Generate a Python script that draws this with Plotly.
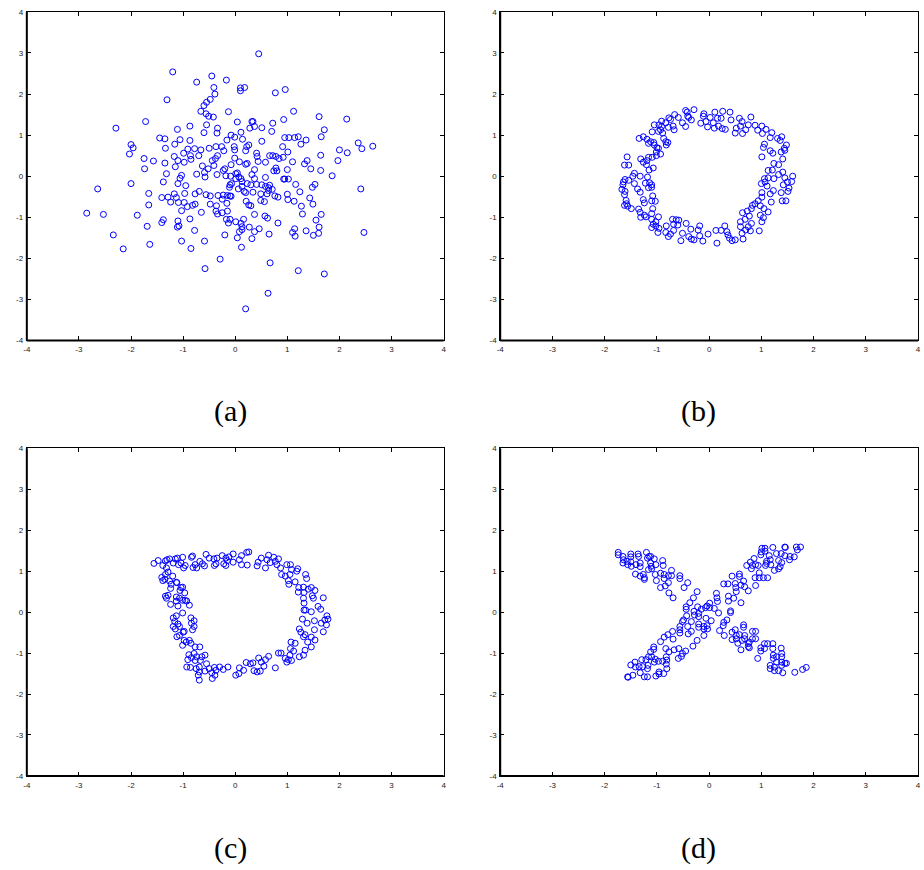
import plotly.graph_objects as go

# ---------------- data ----------------
points_a = [
    (0.45, 2.98), (-1.20, 2.54), (-0.45, 2.44), (-0.74, 2.29), (-0.17, 2.34), (-0.41, 2.16), (0.10, 2.15),
    (0.18, 2.16), (0.10, 2.08), (0.77, 2.03), (0.96, 2.11), (-0.39, 2.00), (-1.31, 1.86), (-0.48, 1.87),
    (-0.55, 1.80), (-0.60, 1.72), (-0.66, 1.58), (-0.56, 1.52), (-0.51, 1.46), (-0.42, 1.44), (-0.13, 1.57),
    (1.12, 1.58), (-1.72, 1.33), (-2.29, 1.17), (-0.87, 1.22), (-0.55, 1.25), (0.04, 1.32), (0.32, 1.33),
    (0.34, 1.33), (0.72, 1.29), (0.93, 1.38), (1.61, 1.45), (2.14, 1.39), (1.71, 1.13), (-1.11, 1.14),
    (-0.34, 1.17), (-0.35, 1.05), (-0.60, 1.06), (0.11, 1.07), (0.28, 1.17), (0.37, 1.21), (0.51, 1.18),
    (0.70, 1.09), (-1.45, 0.93), (-1.35, 0.91), (-1.06, 0.89), (-0.87, 0.87), (-0.08, 1.00), (-0.01, 0.95),
    (-0.16, 0.88), (0.14, 0.90), (0.51, 0.85), (0.95, 0.94), (1.03, 0.94), (1.14, 0.94), (1.21, 0.96),
    (1.26, 0.78), (1.36, 0.88), (1.65, 0.96), (2.36, 0.81), (2.64, 0.73), (2.43, 0.67), (2.00, 0.64),
    (2.15, 0.57), (-2.00, 0.77), (-1.96, 0.69), (-2.03, 0.54), (-1.34, 0.68), (-1.16, 0.78), (-0.91, 0.66),
    (-0.78, 0.67), (-0.66, 0.64), (-0.50, 0.68), (-0.37, 0.72), (-0.26, 0.72), (-0.02, 0.72), (-0.01, 0.64),
    (-0.22, 0.62), (0.26, 0.76), (0.22, 0.72), (0.20, 0.62), (0.41, 0.56), (0.42, 0.48), (0.66, 0.50),
    (0.72, 0.50), (0.78, 0.48), (0.84, 0.43), (0.91, 0.72), (1.01, 0.59), (0.92, 0.46), (1.38, 0.38),
    (1.33, 0.30), (1.64, 0.51), (1.97, 0.38), (-1.75, 0.43), (-1.57, 0.37), (-1.74, 0.18), (-1.35, 0.32),
    (-1.17, 0.48), (-1.10, 0.38), (-1.15, 0.23), (-0.99, 0.56), (-0.98, 0.34), (-0.86, 0.50), (-0.85, 0.41),
    (-0.70, 0.50), (-0.63, 0.25), (-0.52, 0.18), (-0.44, 0.38), (-0.41, 0.26), (-0.34, 0.50), (-0.38, 0.43),
    (-0.23, 0.14), (-0.20, 0.18), (-0.08, 0.28), (-0.01, 0.44), (0.08, 0.35), (0.20, 0.29), (0.23, 0.31),
    (0.37, 0.16), (0.44, 0.36), (0.58, 0.34), (0.78, 0.20), (0.74, 0.13), (0.80, 0.13), (1.00, 0.16),
    (1.10, 0.35), (1.45, 0.18), (1.64, 0.14), (1.86, 0.01), (-1.32, 0.06), (-1.03, 0.02), (-1.06, -0.05),
    (-0.74, 0.05), (-0.59, 0.09), (-0.58, -0.02), (-0.35, 0.04), (-0.18, 0.01), (-0.09, 0.00), (0.01, 0.06),
    (0.04, 0.08), (0.07, -0.02), (0.01, -0.06), (0.11, -0.06), (0.13, -0.13), (0.32, 0.04), (0.37, -0.06),
    (0.58, -0.03), (0.95, -0.07), (1.02, -0.07), (0.93, -0.07), (-1.38, -0.14), (-1.10, -0.18), (-0.95, -0.23),
    (-2.64, -0.31), (-2.00, -0.18), (-1.66, -0.42), (-1.41, -0.52), (-1.29, -0.51), (-1.17, -0.43),
    (-1.13, -0.52), (-1.24, -0.63), (-1.09, -0.64), (-0.97, -0.42), (-0.98, -0.64), (-0.77, -0.43),
    (-0.69, -0.37), (-0.56, -0.45), (-0.48, -0.48), (-0.33, -0.47), (-0.23, -0.46), (-0.15, -0.47),
    (-0.10, -0.48), (-0.10, -0.21), (-0.11, -0.27), (-0.07, -0.18), (-0.08, -0.49), (0.06, -0.31),
    (0.13, -0.25), (0.17, -0.37), (0.23, -0.18), (0.20, -0.40), (0.30, -0.21), (0.34, -0.39), (0.41, -0.20),
    (0.49, -0.43), (0.51, -0.21), (0.58, -0.25), (0.64, -0.28), (0.66, -0.22), (0.64, -0.35), (0.71, -0.32),
    (0.76, -0.48), (0.82, -0.51), (0.61, -0.43), (1.00, -0.44), (1.01, -0.57), (1.16, -0.20), (1.24, -0.38),
    (1.13, -0.61), (1.27, -0.73), (1.29, -0.92), (1.48, -0.27), (1.53, -0.20), (1.43, -0.53), (1.49, -0.68),
    (2.41, -0.31), (-2.85, -0.90), (-2.53, -0.93), (-1.88, -0.95), (-1.66, -0.70), (-1.69, -1.22),
    (-2.34, -1.43), (-2.15, -1.77), (-1.64, -1.66), (-1.38, -1.06), (-1.41, -1.13), (-1.10, -1.09),
    (-1.11, -1.24), (-1.08, -1.21), (-1.03, -0.84), (-0.92, -0.74), (-0.82, -0.71), (-0.77, -0.68),
    (-0.87, -1.04), (-0.65, -0.88), (-0.78, -1.32), (-1.03, -1.58), (-0.85, -1.76), (-0.59, -1.58),
    (-0.58, -2.25), (-0.48, -0.68), (-0.37, -0.85), (-0.34, -0.92), (-0.36, -0.72), (-0.25, -0.89),
    (-0.25, -0.56), (-0.15, -0.85), (-0.16, -0.66), (-0.17, -1.05), (-0.10, -1.05), (-0.13, -1.14),
    (-0.20, -1.43), (-0.29, -2.02), (0.01, -1.11), (0.04, -1.50), (0.08, -1.35), (0.11, -1.15), (0.13, -1.30),
    (0.16, -1.05), (0.12, -1.73), (0.21, -0.61), (0.26, -0.70), (0.30, -0.72), (0.37, -0.93), (0.27, -1.24),
    (0.37, -1.35), (0.46, -1.28), (0.32, -1.52), (0.20, -3.23), (0.49, -0.59), (0.56, -0.62), (0.57, -0.97),
    (0.62, -1.02), (0.65, -1.41), (0.67, -2.11), (0.63, -2.85), (0.82, -1.14), (1.10, -1.37), (1.14, -1.28),
    (1.15, -1.46), (1.21, -2.30), (1.36, -1.33), (1.50, -1.44), (1.55, -1.07), (1.61, -1.24), (1.60, -1.39),
    (1.65, -0.93), (1.71, -2.38), (2.47, -1.37), (0.13, -1.23),
]

points_b = [
    (-0.45, 1.60), (-0.42, 1.56), (-0.29, 1.62), (-0.66, 1.50), (-0.59, 1.43), (-0.41, 1.46), (-0.34, 1.37),
    (-0.39, 1.43), (-0.51, 1.30), (-0.45, 1.21), (-0.74, 1.38), (-0.77, 1.42), (-0.91, 1.34), (-0.83, 1.30),
    (-0.69, 1.22), (-0.67, 1.13), (-1.05, 1.25), (-0.96, 1.25), (-0.91, 1.21), (-0.78, 1.19), (-0.93, 1.13),
    (-0.97, 1.09), (-1.09, 1.08), (-0.89, 1.05), (-0.10, 1.52), (-0.11, 1.46), (-0.06, 1.33), (-0.16, 1.29),
    (0.11, 1.56), (0.02, 1.43), (0.16, 1.41), (0.08, 1.30), (-0.03, 1.20), (0.10, 1.17), (0.26, 1.58),
    (0.40, 1.56), (0.23, 1.41), (0.18, 1.22), (0.25, 1.16), (0.31, 1.14), (0.42, 1.37), (0.58, 1.41),
    (0.63, 1.33), (0.80, 1.44), (0.60, 1.22), (0.52, 1.17), (0.50, 1.05), (0.64, 1.04), (0.70, 1.13),
    (0.75, 1.25), (0.88, 1.24), (0.93, 1.12), (1.01, 1.22), (1.09, 1.14), (1.02, 1.04), (1.20, 1.06),
    (1.17, 0.94), (1.31, 0.92), (1.39, 0.96), (1.36, 0.87), (1.48, 0.76), (1.44, 0.68), (1.45, 0.63),
    (1.38, 0.59), (1.06, 0.78), (1.04, 0.70), (1.17, 0.62), (1.22, 0.56), (1.01, 0.47), (1.41, 0.42),
    (1.24, 0.31), (1.33, 0.28), (1.41, 0.10), (1.13, 0.14), (1.21, 0.15), (1.33, 0.04), (1.13, -0.04),
    (1.06, -0.06), (1.24, -0.06), (1.45, -0.04), (1.60, 0.00), (1.58, -0.13), (1.50, -0.14), (1.42, -0.21),
    (1.53, -0.29), (1.51, -0.37), (1.38, -0.40), (1.23, -0.35), (1.17, -0.43), (1.00, -0.18), (1.07, -0.14),
    (1.11, -0.24), (1.01, -0.40), (1.01, -0.51), (0.94, -0.60), (1.19, -0.63), (1.40, -0.60), (1.47, -0.60),
    (0.88, -0.67), (0.83, -0.71), (0.81, -0.79), (0.98, -0.72), (1.05, -0.79), (1.13, -0.87), (0.98, -0.95),
    (1.04, -1.01), (1.01, -1.11), (0.73, -0.85), (0.64, -0.89), (0.77, -0.97), (0.69, -1.05), (0.60, -1.11),
    (0.81, -1.15), (0.75, -1.23), (0.60, -1.23), (0.70, -1.31), (0.96, -1.33), (0.79, -1.33), (0.63, -1.39),
    (0.65, -1.53), (0.50, -1.55), (0.44, -1.57), (0.36, -1.43), (0.39, -1.51), (0.34, -1.35), (0.30, -1.21),
    (0.23, -1.32), (0.13, -1.32), (0.15, -1.63), (-0.02, -1.41), (-0.12, -1.58), (-0.18, -1.45),
    (-0.18, -1.21), (-0.21, -1.31), (-0.29, -1.55), (-0.34, -1.53), (-0.39, -1.47), (-0.35, -1.29),
    (-0.51, -1.39), (-0.54, -1.57), (-0.44, -1.15), (-0.60, -1.19), (-0.63, -1.06), (-0.58, -1.07),
    (-0.70, -1.05), (-0.68, -1.17), (-0.68, -1.32), (-0.74, -1.41), (-0.78, -1.47), (-0.82, -1.21),
    (-0.83, -1.37), (-0.96, -1.27), (-0.98, -1.37), (-0.97, -0.99), (-1.02, -1.11), (-1.07, -1.17),
    (-1.10, -1.25), (-1.02, -1.21), (-1.10, -1.05), (-1.21, -0.99), (-1.10, -0.91), (-1.08, -0.79),
    (-1.24, -0.95), (-1.35, -0.80), (-1.32, -0.88), (-1.31, -1.00), (-1.49, -0.79), (-1.56, -0.73),
    (-1.62, -0.71), (-1.59, -0.59), (-1.58, -0.67), (-1.24, -0.65), (-1.26, -0.57), (-1.10, -0.60),
    (-1.03, -0.61), (-1.08, -0.48), (-1.62, -0.45), (-1.61, -0.37), (-1.67, -0.32), (-1.65, -0.21),
    (-1.64, -0.14), (-1.61, -0.08), (-1.54, -0.10), (-1.46, 0.00), (-1.43, 0.07), (-1.43, -0.18),
    (-1.37, -0.31), (-1.32, -0.39), (-1.32, 0.00), (-1.22, -0.17), (-1.18, -0.02), (-1.14, -0.16),
    (-1.10, -0.21), (-1.10, -0.27), (-1.16, -0.28), (-1.62, 0.27), (-1.54, 0.27), (-1.57, 0.47),
    (-1.31, 0.42), (-1.26, 0.34), (-1.20, 0.28), (-1.19, 0.38), (-1.16, 0.46), (-1.09, 0.46), (-1.15, 0.15),
    (-1.07, 0.20), (-1.01, 0.50), (-0.93, 0.54), (-1.34, 0.92), (-1.26, 0.96), (-1.19, 0.90), (-1.16, 0.80),
    (-1.12, 0.84), (-1.06, 0.82), (-1.05, 0.76), (-1.00, 0.69), (-0.97, 0.68), (-1.01, 0.59), (-0.87, 0.92),
    (-0.83, 0.84), (-0.79, 0.82), (-0.82, 0.76),
]

points_c = [
    (-1.56, 1.19), (-1.48, 1.26), (-1.39, 1.14), (-1.34, 1.25), (-1.31, 1.28), (-1.26, 1.30), (-1.32, 1.08),
    (-1.15, 1.30), (-1.11, 1.32), (-1.19, 1.20), (-1.09, 1.16), (-1.01, 1.34), (-1.04, 1.20), (-0.96, 1.14),
    (-0.99, 1.08), (-0.84, 1.34), (-0.82, 1.37), (-0.77, 1.16), (-0.74, 1.08), (-0.81, 1.09), (-0.68, 1.24),
    (-0.56, 1.41), (-0.63, 1.18), (-0.59, 1.13), (-0.50, 1.32), (-0.41, 1.30), (-0.35, 1.32), (-0.37, 1.18),
    (-0.40, 1.14), (-0.25, 1.38), (-0.18, 1.32), (-0.12, 1.35), (-0.15, 1.26), (-0.22, 1.18), (-0.18, 1.14),
    (-0.04, 1.42), (-0.04, 1.22), (0.12, 1.38), (0.08, 1.28), (0.12, 1.16), (0.22, 1.46), (0.26, 1.47),
    (0.23, 1.15), (0.42, 1.13), (0.44, 1.22), (0.50, 1.32), (0.58, 1.08), (0.64, 1.39), (0.61, 1.28),
    (0.67, 1.21), (0.74, 1.34), (0.77, 1.24), (0.83, 1.30), (0.80, 1.16), (0.87, 1.08), (0.89, 0.92),
    (0.96, 0.88), (0.99, 1.16), (1.06, 1.16), (1.08, 1.04), (1.05, 0.92), (1.02, 0.77), (1.03, 0.68),
    (1.18, 1.00), (1.20, 1.06), (1.15, 0.74), (1.22, 0.60), (1.21, 0.49), (1.31, 0.61), (1.35, 0.92),
    (1.37, 0.82), (1.32, 0.48), (1.40, 0.56), (1.46, 0.60), (1.53, 0.53), (1.48, 0.40), (1.50, 0.34),
    (1.31, 0.34), (1.32, 0.22), (1.32, 0.05), (1.35, 0.05), (1.46, 0.01), (1.59, 0.14), (1.64, 0.07),
    (1.69, 0.35), (1.76, -0.09), (1.78, -0.17), (1.72, -0.19), (1.65, -0.27), (1.75, -0.31), (1.69, -0.48),
    (1.52, -0.21), (1.38, -0.27), (1.29, -0.17), (1.23, -0.41), (1.26, -0.49), (1.34, -0.55), (1.39, -0.73),
    (1.52, -0.43), (1.46, -0.61), (1.53, -0.68), (1.46, -0.85), (1.31, -0.60), (1.15, -0.76), (1.07, -0.73),
    (1.06, -0.89), (1.12, -0.95), (1.05, -1.05), (1.34, -0.93), (1.31, -1.05), (1.23, -1.09), (1.08, -1.18),
    (1.02, -1.16), (0.96, -1.13), (0.99, -1.22), (0.83, -1.00), (0.88, -1.00), (0.77, -1.36), (0.64, -1.08),
    (0.58, -1.16), (0.55, -1.32), (0.50, -1.22), (0.45, -1.12), (0.48, -1.44), (0.42, -1.46), (0.34, -1.24),
    (0.29, -1.26), (0.21, -1.23), (0.36, -1.43), (0.16, -1.42), (0.08, -1.36), (0.07, -1.50), (0.01, -1.54),
    (-0.14, -1.34), (-0.23, -1.40), (-0.30, -1.34), (-0.40, -1.35), (-0.37, -1.42), (-0.45, -1.48),
    (-0.44, -1.62), (-0.39, -1.54), (-0.50, -1.38), (-0.55, -1.26), (-0.58, -1.44), (-0.58, -1.05),
    (-0.64, -1.09), (-0.67, -1.18), (-0.69, -1.46), (-0.69, -1.66), (-0.71, -1.54), (-0.69, -1.34),
    (-0.75, -1.38), (-0.77, -1.18), (-0.74, -1.09), (-0.79, -1.01), (-0.84, -1.11), (-0.86, -1.35),
    (-0.93, -1.34), (-0.91, -1.16), (-0.89, -1.04), (-0.68, -0.85), (-0.77, -0.85), (-0.85, -0.76),
    (-0.88, -0.69), (-0.94, -0.73), (-1.01, -0.81), (-0.98, -0.69), (-0.98, -0.47), (-1.00, -0.49),
    (-0.82, -0.43), (-0.79, -0.35), (-0.79, -0.21), (-0.85, -0.14), (-0.84, -0.27), (-1.01, -0.02),
    (-1.13, -0.09), (-1.19, -0.14), (-1.16, -0.23), (-1.10, -0.29), (-1.19, -0.35), (-1.15, -0.41),
    (-1.07, -0.35), (-1.12, -0.60), (-1.07, -0.57), (-0.88, 0.17), (-0.93, 0.27), (-0.96, 0.29),
    (-0.97, 0.47), (-1.01, 0.29), (-1.07, 0.34), (-1.13, 0.37), (-1.13, 0.27), (-1.10, 0.15), (-1.24, 0.19),
    (-1.34, 0.39), (-1.32, 0.34), (-1.29, 0.41), (-1.01, 0.61), (-1.04, 0.60), (-1.13, 0.73), (-1.12, 0.72),
    (-1.06, 0.53), (-1.23, 0.68), (-1.24, 0.58), (-1.41, 0.85), (-1.39, 0.77), (-1.35, 0.80), (-1.34, 0.92),
    (-1.26, 0.76), (-1.20, 0.88), (-1.29, 0.98),
]

points_d = [
    (-1.74, 1.46), (-1.74, 1.40), (-1.65, 1.36), (-1.64, 1.28), (-1.65, 1.20), (-1.57, 1.24), (-1.56, 1.16),
    (-1.50, 1.42), (-1.50, 1.35), (-1.50, 1.23), (-1.49, 1.12), (-1.40, 1.16), (-1.41, 0.93), (-1.36, 1.42),
    (-1.35, 1.36), (-1.32, 1.20), (-1.32, 1.11), (-1.32, 0.88), (-1.26, 0.92), (-1.24, 0.84), (-1.24, 0.80),
    (-1.20, 1.46), (-1.18, 1.32), (-1.15, 1.36), (-1.12, 1.36), (-1.12, 1.20), (-1.11, 1.12), (-1.10, 1.06),
    (-1.16, 1.04), (-1.05, 1.30), (-1.02, 1.16), (-1.03, 0.92), (-1.01, 0.77), (-0.93, 0.95), (-0.89, 1.26),
    (-0.88, 1.14), (-0.86, 0.92), (-0.86, 0.82), (-0.84, 0.64), (-0.78, 0.89), (-0.78, 0.72), (-0.93, 0.60),
    (-0.77, 0.47), (-0.69, 0.35), (-0.72, 1.02), (-0.72, 0.89), (-0.56, 0.89), (-0.56, 0.82), (-0.48, 0.60),
    (-0.41, 0.72), (-0.23, 0.50),
    (1.67, 1.59), (1.75, 1.59), (1.69, 1.52), (1.45, 1.59), (1.46, 1.58), (1.22, 1.58), (1.01, 1.56),
    (1.07, 1.56), (1.07, 1.49), (0.99, 1.40), (1.00, 1.47), (1.38, 1.43), (1.29, 1.43), (1.45, 1.38),
    (1.55, 1.36), (1.63, 1.35), (1.54, 1.28), (1.15, 1.38), (1.17, 1.28), (1.10, 1.24), (1.18, 1.16),
    (1.08, 1.14), (1.10, 1.19), (1.33, 1.26), (1.39, 1.21), (1.36, 1.11), (1.33, 1.06), (1.25, 1.02),
    (0.86, 1.31), (0.79, 1.22), (0.72, 1.14), (0.83, 1.14), (0.89, 1.16), (0.94, 1.14), (0.81, 1.06),
    (0.96, 0.96), (0.88, 0.84), (0.96, 0.84), (1.04, 0.84), (1.12, 0.84), (0.89, 0.65), (0.58, 0.93),
    (0.58, 0.87), (0.44, 0.88), (0.66, 0.76), (0.50, 0.70), (0.51, 0.60), (0.52, 0.50), (0.61, 0.66),
    (0.68, 0.62), (0.75, 0.52), (0.28, 0.69), (0.36, 0.69), (0.14, 0.46), (0.15, 0.35), (0.16, 0.26),
    (0.37, 0.39), (0.37, 0.27), (0.47, 0.34), (0.61, 0.23),
    (0.01, 0.22), (-0.04, 0.15), (0.01, 0.11), (-0.07, 0.11), (-0.15, 0.07), (-0.22, 0.13), (-0.30, 0.35),
    (-0.37, 0.23), (-0.44, 0.13), (-0.44, 0.07), (-0.29, 0.02), (-0.28, -0.07), (-0.20, -0.03),
    (-0.20, -0.11), (0.10, 0.09), (0.18, -0.02), (0.04, -0.21), (-0.06, -0.15), (-0.43, -0.09),
    (-0.49, -0.19), (-0.51, -0.23), (-0.34, -0.23), (-0.41, -0.35), (-0.34, -0.47), (-0.40, -0.53),
    (-0.20, -0.29), (-0.20, -0.37), (-0.10, -0.35), (-0.10, -0.41), (-0.10, -0.57), (-0.04, -0.33),
    (-0.03, -0.41), (0.28, -0.25), (0.27, -0.33), (0.34, -0.19), (0.41, 0.03), (0.41, -0.01), (0.20, -0.45),
    (0.29, -0.57),
    (-0.56, -0.35), (-0.56, -0.43), (-0.56, -0.51), (-0.70, -0.47), (-0.79, -0.55), (-0.86, -0.61),
    (-0.93, -0.72), (-0.69, -0.66), (-0.58, -0.89), (-0.67, -0.92), (-0.83, -0.89), (-0.77, -0.97),
    (-0.51, -1.01), (-0.45, -0.95), (-0.53, -1.08), (-0.59, -1.13), (-0.31, -0.83), (-0.23, -0.69),
    (-1.06, -0.85), (-1.06, -0.91), (-1.12, -0.97), (-1.16, -1.09), (-1.21, -1.16), (-1.29, -1.16),
    (-1.10, -1.09), (-1.03, -1.15), (-1.05, -1.22), (-0.97, -1.20), (-0.89, -1.20), (-0.82, -1.09),
    (-0.81, -1.17), (-0.82, -1.27), (-0.81, -1.38), (-1.17, -1.30), (-1.18, -1.38), (-1.27, -1.33),
    (-1.34, -1.33), (-1.42, -1.22), (-1.50, -1.29), (-1.41, -1.34), (-1.32, -1.48), (-1.46, -1.54),
    (-1.55, -1.59), (-1.56, -1.58), (-1.24, -1.58), (-1.18, -1.58), (-1.02, -1.56), (-0.96, -1.46),
    (-0.96, -1.51), (-0.87, -1.50),
    (0.44, -0.49), (0.50, -0.43), (0.52, -0.57), (0.52, -0.65), (0.58, -0.55), (0.63, -0.69), (0.66, -0.31),
    (0.66, -0.37), (0.68, -0.57), (0.68, -0.65), (0.44, -0.67), (0.55, -0.76), (0.61, -0.92), (0.75, -0.77),
    (0.75, -0.84), (0.77, -0.73), (0.83, -0.47), (0.89, -0.47), (0.83, -0.65), (0.89, -0.65), (0.77, -0.87),
    (0.93, -1.13), (0.99, -0.87), (0.99, -0.95), (1.06, -0.77), (1.06, -0.89), (1.12, -0.77), (1.22, -0.77),
    (1.22, -0.89), (1.23, -1.05), (1.23, -1.13), (1.29, -1.09), (1.38, -0.88), (1.39, -1.01), (1.39, -1.09),
    (1.39, -1.22), (1.39, -1.30), (1.45, -1.25), (1.48, -1.25), (1.17, -1.30), (1.17, -1.38), (1.25, -1.34),
    (1.25, -1.43), (1.33, -1.43), (1.41, -1.48), (1.29, -1.22), (1.64, -1.47), (1.79, -1.40), (1.86, -1.35),
]

tick_values = [-4, -3, -2, -1, 0, 1, 2, 3, 4]
tick_labels = ["-4", "-3", "-2", "-1", "0", "1", "2", "3", "4"]
panel_labels = ["(a)", "(b)", "(c)", "(d)"]

# ---------------- layout ----------------
W, H = 924, 870
# plot-area pixel boxes: (left, right, top, bottom)
boxes = [(23, 443, 8, 340), (500, 921, 8, 340), (23, 443, 449, 780), (500, 921, 449, 780)]
label_pos = [(228, 411), (700, 411), (228, 853), (700, 853)]
panels = [points_a, points_b, points_c, points_d]

fig = go.Figure()
axis_common = dict(
    range=[-4, 4], tickmode="array", tickvals=tick_values, ticktext=tick_labels,
    ticks="inside", ticklen=4, tickwidth=1, tickcolor="black",
    showline=True, linecolor="black", linewidth=1, mirror="ticks",
    showgrid=False, zeroline=False, fixedrange=True,
    tickfont=dict(family="Liberation Sans", size=8, color="#222222"),
)

for i, (pts, box) in enumerate(zip(panels, boxes)):
    n = i + 1
    xa = "x" if n == 1 else f"x{n}"
    ya = "y" if n == 1 else f"y{n}"
    xs = [p[0] for p in pts]
    ys = [p[1] for p in pts]
    fig.add_trace(go.Scatter(
        x=xs, y=ys, mode="markers", xaxis=xa, yaxis=ya, showlegend=False,
        marker=dict(symbol="circle-open", size=6, color="#0000ff", line=dict(width=1, color="#0000ff")),
        hoverinfo="skip",
    ))
    l, r, t, b = box
    xdom = [l / W, r / W]
    ydom = [1 - b / H, 1 - t / H]
    xkey = "xaxis" if n == 1 else f"xaxis{n}"
    ykey = "yaxis" if n == 1 else f"yaxis{n}"
    fig.update_layout({
        xkey: dict(axis_common, domain=xdom, anchor=ya, ticklabelstandoff=1),
        ykey: dict(axis_common, domain=ydom, anchor=xa, ticklabelstandoff=1),
    })
    # thicker bottom and left frame edges
    fig.add_shape(type="line", xref=f"{xa} domain", yref=f"{ya} domain", x0=0, x1=1, y0=0, y1=0,
                  line=dict(color="black", width=2))
    fig.add_shape(type="line", xref=f"{xa} domain", yref=f"{ya} domain", x0=0, x1=0, y0=0, y1=1,
                  line=dict(color="black", width=2))
    lx, ly = label_pos[i]
    fig.add_annotation(text=panel_labels[i], x=lx / W, y=1 - ly / H, xref="paper", yref="paper",
                       showarrow=False, xanchor="center", yanchor="middle",
                       font=dict(family="Liberation Serif", size=30, color="black"))

fig.update_layout(width=W, height=H, margin=dict(l=0, r=0, t=0, b=0),
                  paper_bgcolor="white", plot_bgcolor="white")

fig.write_html("out.html")
